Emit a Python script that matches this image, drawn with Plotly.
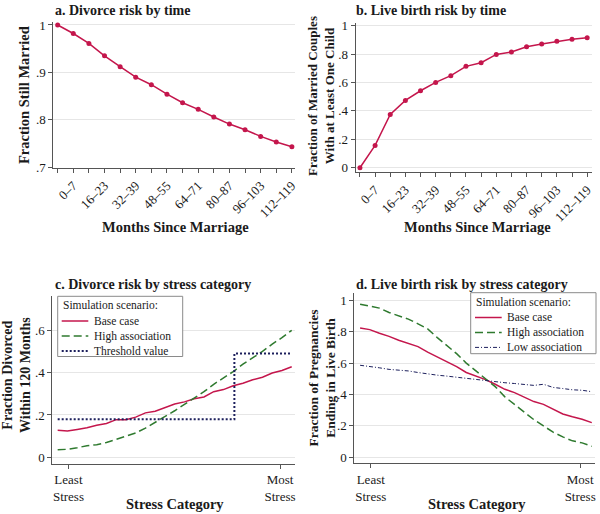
import plotly.graph_objects as go

# ---------------- Data ----------------
month_labels = ["", "0–7", "", "16–23", "", "32–39", "", "48–55", "", "64–71",
                "", "80–87", "", "96–103", "", "112–119"]
still_married = [1.000, 0.982, 0.961, 0.935, 0.912, 0.890, 0.874, 0.854, 0.836,
                 0.822, 0.806, 0.791, 0.779, 0.765, 0.753, 0.743]
with_child = [0.000, 0.157, 0.375, 0.474, 0.542, 0.601, 0.648, 0.714, 0.739,
              0.798, 0.815, 0.852, 0.871, 0.890, 0.904, 0.915]

stress = [i / 24 for i in range(25)]  # stress category position (least -> most)
div_base = [0.128, 0.124, 0.132, 0.140, 0.152, 0.160, 0.178, 0.178, 0.190, 0.210,
            0.218, 0.236, 0.252, 0.262, 0.277, 0.285, 0.310, 0.320, 0.338, 0.350,
            0.366, 0.378, 0.398, 0.410, 0.428]
div_high = [0.036, 0.038, 0.045, 0.055, 0.060, 0.070, 0.085, 0.100, 0.115, 0.138,
            0.165, 0.195, 0.220, 0.250, 0.280, 0.310, 0.345, 0.375, 0.405, 0.440,
            0.470, 0.500, 0.535, 0.565, 0.600]
thr_x = [0.0, 0.755, 0.755, 1.0]
thr_y = [0.18, 0.18, 0.49, 0.49]

birth_base = [0.824, 0.813, 0.790, 0.770, 0.745, 0.726, 0.705, 0.670, 0.640, 0.610,
              0.578, 0.540, 0.518, 0.495, 0.465, 0.433, 0.412, 0.385, 0.355, 0.337,
              0.305, 0.276, 0.258, 0.243, 0.221]
birth_high = [0.975, 0.962, 0.950, 0.922, 0.902, 0.880, 0.850, 0.818, 0.762, 0.712,
              0.660, 0.600, 0.550, 0.500, 0.450, 0.385, 0.335, 0.285, 0.240, 0.200,
              0.160, 0.130, 0.105, 0.092, 0.070]
birth_low = [0.586, 0.580, 0.570, 0.560, 0.555, 0.550, 0.540, 0.530, 0.523, 0.517,
             0.510, 0.500, 0.496, 0.490, 0.482, 0.475, 0.470, 0.462, 0.458, 0.465,
             0.445, 0.438, 0.430, 0.427, 0.418]

stress_ticks = [0.046, 0.95]
stress_labels = ["Least<br>Stress", "Most<br>Stress"]

legend_c_names = ["Base case", "High association", "Threshold value"]
legend_d_names = ["Base case", "High association", "Low association"]
legend_title = "Simulation scenario:"

# ---------------- Styles ----------------
W, H = 600, 514
RED = "#c4164c"
GREEN = "#2f7a2f"
NAVY = "#1c1f5c"
FONT = "Liberation Serif"
TXT = "#1a1a1a"

RED_LINE = dict(color=RED, width=1.5)
GREEN_LINE = dict(color=GREEN, width=1.5, dash="8px,4px")
THR_LINE = dict(color=NAVY, width=2, dash="2px,2px")
LOW_LINE = dict(color=NAVY, width=1, dash="4px,2px,1px,2px")


def px_x(p):
    return p / W


def px_y(p):
    return 1 - p / H


fig = go.Figure()
idx = list(range(len(still_married)))

fig.add_trace(go.Scatter(x=idx, y=still_married, mode="lines+markers",
                         line=RED_LINE, marker=dict(size=5, color=RED),
                         xaxis="x", yaxis="y", name="Still married"))
fig.add_trace(go.Scatter(x=idx, y=with_child, mode="lines+markers",
                         line=RED_LINE, marker=dict(size=5, color=RED),
                         xaxis="x2", yaxis="y2", name="With child"))

fig.add_trace(go.Scatter(x=stress, y=div_base, mode="lines", name=legend_c_names[0],
                         line=RED_LINE, xaxis="x3", yaxis="y3"))
fig.add_trace(go.Scatter(x=stress, y=div_high, mode="lines", name=legend_c_names[1],
                         line=GREEN_LINE, xaxis="x3", yaxis="y3"))
fig.add_trace(go.Scatter(x=thr_x, y=thr_y, mode="lines", name=legend_c_names[2],
                         line=THR_LINE, xaxis="x3", yaxis="y3"))

fig.add_trace(go.Scatter(x=stress, y=birth_base, mode="lines", name=legend_d_names[0],
                         line=RED_LINE, xaxis="x4", yaxis="y4"))
fig.add_trace(go.Scatter(x=stress, y=birth_high, mode="lines", name=legend_d_names[1],
                         line=GREEN_LINE, xaxis="x4", yaxis="y4"))
fig.add_trace(go.Scatter(x=stress, y=birth_low, mode="lines", name=legend_d_names[2],
                         line=LOW_LINE, xaxis="x4", yaxis="y4"))

axis_common = dict(showline=True, linecolor="#555", linewidth=1, ticks="outside",
                   ticklen=4, tickcolor="#555", zeroline=False, automargin=False,
                   tickfont=dict(family=FONT, size=13, color=TXT))
yaxis_common = dict(axis_common, showgrid=True, gridcolor="#e6e6e6", gridwidth=1)
xaxis_common = dict(axis_common, showgrid=False)

fig.update_layout(
    width=W, height=H, autosize=False, margin=dict(l=0, r=0, t=0, b=0, pad=0),
    paper_bgcolor="white", plot_bgcolor="white", showlegend=False,
    font=dict(family=FONT, color=TXT),
    xaxis=dict(xaxis_common, domain=[px_x(53.3), px_x(295)], anchor="y",
               range=[-0.28, 15.2], tickmode="array", tickvals=idx, ticktext=month_labels,
               tickangle=-45),
    yaxis=dict(yaxis_common, domain=[px_y(168), px_y(22)], anchor="x",
               range=[0.6983, 1.0063], tickmode="array",
               tickvals=[0.7, 0.8, 0.9, 1.0], ticktext=[".7", ".8", ".9", "1"]),
    xaxis2=dict(xaxis_common, domain=[px_x(355.7), px_x(591.7)], anchor="y2",
                range=[-0.28, 15.3], tickmode="array", tickvals=idx, ticktext=month_labels,
                tickangle=-45),
    yaxis2=dict(yaxis_common, domain=[px_y(172.3), px_y(23)], anchor="x2",
                range=[-0.032, 1.019], tickmode="array",
                tickvals=[0, 0.2, 0.4, 0.6, 0.8, 1.0], ticktext=["0", ".2", ".4", ".6", ".8", "1"]),
    xaxis3=dict(xaxis_common, domain=[px_x(52.3), px_x(295)], anchor="y3",
                range=[-0.023, 1.014], tickmode="array", tickvals=stress_ticks,
                ticktext=stress_labels),
    yaxis3=dict(yaxis_common, domain=[px_y(463.7), px_y(296.3)], anchor="x3",
                range=[-0.030, 0.7605], tickmode="array",
                tickvals=[0, 0.2, 0.4, 0.6], ticktext=["0", ".2", ".4", ".6"]),
    xaxis4=dict(xaxis_common, domain=[px_x(354.3), px_x(595)], anchor="y4",
                range=[-0.025, 1.014], tickmode="array", tickvals=stress_ticks,
                ticktext=stress_labels),
    yaxis4=dict(yaxis_common, domain=[px_y(463), px_y(292.7)], anchor="x4",
                range=[-0.036, 1.048], tickmode="array",
                tickvals=[0, 0.2, 0.4, 0.6, 0.8, 1.0], ticktext=["0", ".2", ".4", ".6", ".8", "1"]),
)

ann = []
shapes = []


def add_text(text, x, y, size, bold=True, angle=0, xanchor="center", yanchor="middle",
             align="center"):
    ann.append(dict(text=f"<b>{text}</b>" if bold else text, x=px_x(x), y=px_y(y),
                    xref="paper", yref="paper", showarrow=False, textangle=angle,
                    xanchor=xanchor, yanchor=yanchor, borderpad=0, align=align,
                    font=dict(family=FONT, size=size, color=TXT)))


# panel titles
add_text("a. Divorce risk by time", 54, 10, 14, xanchor="left")
add_text("b. Live birth risk by time", 355, 10, 14, xanchor="left")
add_text("c. Divorce risk by stress category", 54, 284, 14, xanchor="left")
add_text("d. Live birth risk by stress category", 355, 284, 14, xanchor="left")
# x titles
add_text("Months Since Marriage", 175, 227, 14.5)
add_text("Months Since Marriage", 477, 227, 14.5)
add_text("Stress Category", 175, 504, 14.5)
add_text("Stress Category", 477, 504, 14.5)
# y titles
add_text("Fraction Still Married", 24, 95, 14.5, angle=-90)
add_text("Fraction of Married Couples<br>With at Least One Child", 321, 96, 13, angle=-90)
add_text("Fraction Divorced<br>Within 120 Months", 16, 375, 14, angle=-90)
add_text("Fraction of Pregnancies<br>Ending in Live Birth", 321.5, 378, 13.5, angle=-90)

LEG_SIZE = 11.5
ROW = LEG_SIZE * 1.3


# legends (boxed keys drawn as in the reference)
def add_legend(box, title_y, row0_y, title_x, item_x, sample_x, names, styles):
    x0, y0, x1, y1 = box
    shapes.append(dict(type="rect", xref="paper", yref="paper",
                       x0=px_x(x0), x1=px_x(x1), y0=px_y(y1), y1=px_y(y0),
                       line=dict(color="#8a8a8a", width=1), fillcolor="white", layer="above"))
    add_text(legend_title, title_x, title_y, LEG_SIZE, bold=False, xanchor="left")
    rows = [row0_y + i * ROW for i in range(len(names))]
    add_text("<br>".join(names), item_x, rows[1], LEG_SIZE, bold=False, xanchor="left",
             align="left")
    for style, ry in zip(styles, rows):
        shapes.append(dict(type="line", xref="paper", yref="paper",
                           x0=px_x(sample_x[0]), x1=px_x(sample_x[1]),
                           y0=px_y(ry), y1=px_y(ry), line=style, layer="above"))


add_legend((57.7, 296.3, 182.7, 356.5), 305, 321, 61.5, 92.5, (61.7, 88.3),
           legend_c_names, [RED_LINE, GREEN_LINE, THR_LINE])
add_legend((470.7, 292.7, 596, 353.7), 301.5, 317.5, 475, 506, (475, 501.7),
           legend_d_names, [RED_LINE, GREEN_LINE, LOW_LINE])

fig.update_layout(annotations=ann, shapes=shapes)
fig.write_html("out.html", config={"displayModeBar": False},
               post_script="document.body.style.margin='0';")
